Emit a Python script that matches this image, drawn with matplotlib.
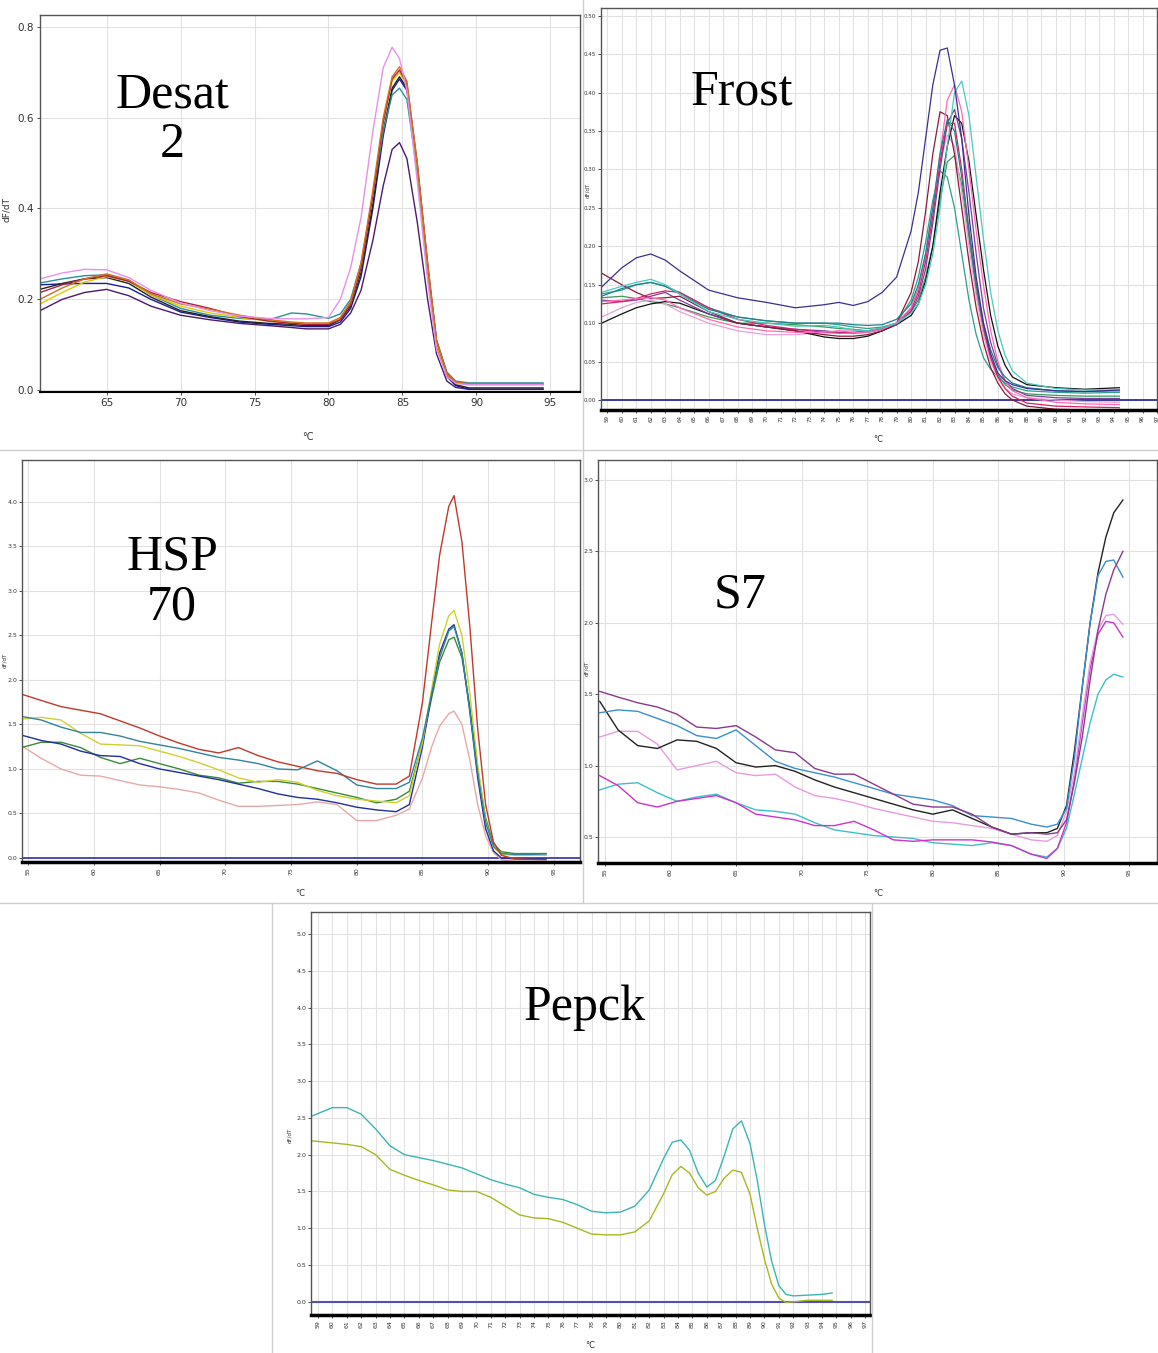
import numpy as np
import matplotlib as mpl
mpl.use('Agg')
import matplotlib.pyplot as plt
from matplotlib.lines import Line2D

# ---------------- data ----------------
DESAT_T = [60.5, 62, 63.5, 65, 66.5, 68, 70, 72, 74, 76, 77.5, 78.5, 80, 80.8, 81.5,
           82.2, 83, 83.7, 84.3, 84.8, 85.3, 86, 86.7, 87.3, 88, 88.6, 89.5, 91, 93, 94.5]
desat_pink = [.245, .258, .266, .265, .248, .22, .192, .175, .163, .158, .157, .157, .16, .2, .27,
              .38, .57, .71, .755, .73, .66, .46, .24, .09, .03, .015, .012, .012, .012, .012]
desat_orange = [.20, .225, .245, .256, .243, .212, .19, .178, .165, .155, .15, .148, .148, .16, .195,
                .28, .44, .6, .69, .712, .68, .5, .28, .11, .037, .018, .014, .014, .014, .014]
desat_yellow = [.19, .215, .238, .25, .24, .21, .185, .17, .16, .152, .148, .145, .147, .158, .19,
                .27, .43, .59, .68, .70, .67, .49, .27, .1, .035, .016, .012, .012, .012, .012]
desat_black = [.222, .235, .245, .248, .235, .205, .175, .162, .152, .147, .145, .142, .142, .155, .185,
               .26, .41, .57, .665, .69, .665, .49, .27, .1, .033, .012, .005, .005, .005, .005]
desat_navy = [.232, .234, .235, .235, .225, .2, .172, .16, .15, .145, .142, .14, .14, .15, .18,
              .25, .4, .56, .66, .685, .66, .49, .27, .1, .03, .01, .002, .002, .002, .002]
desat_teal = [.236, .245, .252, .254, .24, .21, .18, .165, .158, .155, .17, .168, .158, .168, .2,
              .28, .43, .57, .65, .665, .64, .48, .27, .11, .04, .02, .016, .016, .016, .016]
desat_purple = [.175, .2, .215, .222, .208, .185, .165, .155, .147, .142, .138, .135, .135, .145, .17,
                .22, .33, .45, .53, .545, .51, .37, .2, .08, .02, .006, .002, .002, .002, .002]
desat_red = [.215, .232, .245, .252, .24, .215, .195, .18, .162, .152, .147, .145, .145, .155, .19,
             .27, .43, .59, .685, .705, .675, .5, .28, .11, .036, .017, .013, .013, .013, .013]

FROST_T = [58.6, 60, 61, 62, 63, 64, 66, 68, 70, 72, 74, 75, 76, 77, 78, 79, 80, 80.5, 81, 81.5,
           82, 82.5, 83, 83.5, 84, 84.5, 85, 85.5, 86, 86.5, 87, 88, 90, 92, 94.4]
frost_navy = [.147, .172, .185, .19, .182, .168, .143, .133, .127, .12, .124, .127, .123, .128, .14, .16,
              .22, .27, .34, .41, .455, .458, .41, .34, .24, .16, .1, .06, .035, .025, .02, .015, .012, .011, .013]
frost_cyan = [.14, .148, .153, .157, .15, .138, .115, .105, .1, .096, .097, .095, .091, .09, .094, .1,
              .113, .125, .15, .19, .25, .33, .4, .415, .37, .29, .21, .14, .09, .058, .038, .022, .015, .013, .013]
frost_teal = [.135, .145, .15, .153, .148, .138, .118, .108, .103, .1, .1, .1, .098, .097, .098, .105,
              .125, .15, .19, .25, .32, .365, .35, .29, .22, .15, .1, .065, .042, .03, .022, .016, .012, .011, .012]
frost_hotpink = [.128, .13, .132, .133, .13, .12, .105, .095, .09, .088, .088, .09, .088, .088, .092, .1,
                 .12, .145, .19, .25, .32, .39, .41, .375, .3, .22, .15, .09, .05, .025, .012, .003, -.003, -.005, -.006]
frost_darkred = [.165, .15, .14, .132, .133, .135, .115, .1, .095, .09, .085, .083, .083, .085, .09, .1,
                 .14, .18, .245, .32, .375, .37, .32, .25, .18, .12, .075, .042, .022, .008, 0, -.008, -.012, -.013, -.013]
frost_purple = [.13, .128, .13, .135, .14, .13, .112, .1, .095, .092, .09, .088, .087, .088, .092, .098,
                .115, .135, .17, .23, .3, .36, .378, .34, .27, .19, .12, .075, .045, .025, .015, .006, .003, .002, .002]
frost_black = [.10, .112, .12, .125, .128, .126, .112, .1, .095, .09, .082, .08, .08, .083, .09, .098,
               .11, .125, .155, .2, .27, .33, .37, .36, .31, .24, .17, .11, .07, .045, .03, .02, .016, .014, .016]
frost_plum = [.108, .12, .127, .13, .125, .115, .1, .09, .085, .085, .088, .09, .09, .09, .093, .1,
              .12, .145, .185, .24, .31, .345, .33, .27, .2, .135, .085, .05, .028, .015, .008, .003, 0, -.002, -.003]
frost_green = [.133, .135, .132, .128, .125, .12, .108, .1, .1, .098, .095, .093, .092, .09, .094, .1,
               .115, .13, .16, .2, .26, .31, .318, .28, .21, .14, .09, .055, .033, .02, .013, .008, .006, .005, .005]
frost_seagreen = [.138, .143, .15, .153, .148, .14, .12, .108, .103, .1, .1, .098, .095, .093, .095, .1,
                  .13, .16, .205, .26, .298, .29, .25, .19, .13, .085, .055, .04, .03, .022, .017, .012, .01, .009, .01]
frost_crimson = [.125, .128, .132, .138, .142, .14, .12, .105, .097, .092, .088, .087, .088, .09, .093, .1,
                 .118, .14, .18, .24, .31, .36, .36, .3, .22, .15, .095, .055, .03, .015, .005, -.004, -.008, -.009, -.01]

HSP_T = [54.5, 56, 57.5, 59, 60.5, 62, 63.5, 65, 66.5, 68, 69.5, 71, 72.5, 74, 75.5, 77, 78.5, 80,
         81.5, 83, 84, 85, 85.7, 86.3, 87, 87.4, 88, 88.6, 89.2, 89.8, 90.4, 91, 92, 93, 94.4]
hsp_red = [1.84, 1.77, 1.7, 1.66, 1.62, 1.54, 1.46, 1.37, 1.29, 1.22, 1.18, 1.24, 1.15, 1.08, 1.03, 0.98,
           0.95, 0.88, 0.83, 0.83, 0.92, 1.75, 2.65, 3.4, 3.95, 4.07, 3.55, 2.6, 1.45, 0.6, 0.18, 0.03,
           -0.01, -0.015, -0.02]
hsp_teal = [1.59, 1.55, 1.47, 1.41, 1.41, 1.37, 1.31, 1.27, 1.23, 1.18, 1.13, 1.1, 1.06, 1.0, 0.99, 1.09,
            0.98, 0.82, 0.78, 0.78, 0.85, 1.35, 1.85, 2.25, 2.55, 2.6, 2.3, 1.65, 0.95, 0.4, 0.13, 0.05,
            0.04, 0.04, 0.045]
hsp_yellow = [1.56, 1.58, 1.55, 1.4, 1.28, 1.27, 1.26, 1.2, 1.14, 1.07, 0.99, 0.9, 0.85, 0.88, 0.85, 0.76,
              0.7, 0.66, 0.64, 0.62, 0.7, 1.3, 1.9, 2.4, 2.72, 2.78, 2.5, 1.85, 1.05, 0.42, 0.12, 0.04,
              0.03, 0.03, 0.03]
hsp_navy = [1.38, 1.32, 1.28, 1.2, 1.15, 1.14, 1.06, 1.0, 0.96, 0.92, 0.88, 0.83, 0.78, 0.72, 0.68, 0.66,
            0.62, 0.57, 0.54, 0.52, 0.6, 1.25, 1.85, 2.3, 2.57, 2.62, 2.3, 1.65, 0.9, 0.33, 0.08, 0.0,
            -0.01, -0.01, -0.01]
hsp_green = [1.24, 1.3, 1.3, 1.24, 1.13, 1.06, 1.12, 1.06, 1.0, 0.93, 0.9, 0.84, 0.86, 0.86, 0.83, 0.78,
             0.73, 0.68, 0.62, 0.66, 0.75, 1.3, 1.8, 2.2, 2.45, 2.48, 2.25, 1.7, 1.0, 0.45, 0.16, 0.07,
             0.05, 0.05, 0.05]
hsp_pink = [1.26, 1.12, 1.0, 0.93, 0.92, 0.87, 0.82, 0.8, 0.77, 0.73, 0.65, 0.58, 0.58, 0.59, 0.6, 0.63,
            0.6, 0.42, 0.42, 0.48, 0.55, 0.9, 1.25, 1.48, 1.62, 1.65, 1.5, 1.1, 0.6, 0.25, 0.06, -0.02,
            -0.04, -0.04, -0.05]

S7_T = [54.6, 56, 57.5, 59, 60.5, 62, 63.5, 65, 66.5, 68, 69.5, 71, 72.5, 74, 75.5, 77, 78.5, 80, 81.5,
        83, 84.5, 86, 87.5, 88.7, 89.5, 90.2, 90.8, 91.4, 92, 92.6, 93.2, 93.8, 94.5]
s7_purple = [1.52, 1.48, 1.44, 1.41, 1.36, 1.27, 1.26, 1.28, 1.2, 1.11, 1.09, 0.98, 0.94, 0.94, 0.87, 0.8,
             0.73, 0.71, 0.71, 0.66, 0.57, 0.52, 0.53, 0.52, 0.53, 0.62, 0.88, 1.2, 1.6, 1.95, 2.2, 2.37, 2.5]
s7_blue = [1.37, 1.39, 1.38, 1.33, 1.28, 1.21, 1.19, 1.25, 1.14, 1.03, 0.98, 0.95, 0.92, 0.88, 0.84, 0.8,
           0.78, 0.76, 0.72, 0.65, 0.64, 0.63, 0.59, 0.57, 0.59, 0.7, 1.05, 1.55, 2.0, 2.33, 2.43, 2.44, 2.32]
s7_black = [1.45, 1.25, 1.14, 1.12, 1.18, 1.17, 1.12, 1.02, 0.99, 1.0, 0.96, 0.9, 0.85, 0.81, 0.77, 0.73,
            0.69, 0.66, 0.69, 0.63, 0.57, 0.52, 0.53, 0.53, 0.56, 0.72, 1.1, 1.55, 2.0, 2.35, 2.6, 2.77, 2.86]
s7_pink = [1.2, 1.24, 1.24, 1.15, 0.97, 1.0, 1.03, 0.95, 0.93, 0.94, 0.85, 0.79, 0.77, 0.74, 0.7, 0.67,
           0.64, 0.61, 0.6, 0.58, 0.56, 0.52, 0.48, 0.47, 0.51, 0.68, 0.95, 1.35, 1.72, 1.95, 2.05, 2.06, 1.99]
s7_magenta = [0.93, 0.86, 0.74, 0.71, 0.75, 0.77, 0.79, 0.74, 0.66, 0.64, 0.62, 0.58, 0.58, 0.61, 0.55, 0.48,
              0.47, 0.48, 0.48, 0.48, 0.465, 0.44, 0.38, 0.35, 0.42, 0.6, 0.9, 1.3, 1.68, 1.92, 2.01, 2.0, 1.9]
s7_cyan = [0.83, 0.87, 0.88, 0.81, 0.75, 0.78, 0.8, 0.74, 0.69, 0.68, 0.66, 0.6, 0.55, 0.53, 0.51, 0.5,
           0.49, 0.46, 0.45, 0.44, 0.46, 0.44, 0.38, 0.36, 0.42, 0.56, 0.8, 1.05, 1.3, 1.5, 1.6, 1.64, 1.62]

PEPCK_T = [58.5, 59, 60, 61, 62, 63, 64, 65, 66, 67, 68, 69, 70, 71, 72, 73, 74, 75, 76, 77, 78, 79, 80,
           81, 82, 83, 83.6, 84.2, 84.8, 85.4, 86, 86.6, 87.2, 87.8, 88.4, 89, 89.5, 90, 90.5, 91, 91.5,
           92, 93, 94, 94.7]
pepck_cyan = [2.52, 2.56, 2.64, 2.64, 2.55, 2.35, 2.12, 2.0, 1.96, 1.92, 1.87, 1.82, 1.74, 1.66, 1.6, 1.55,
              1.46, 1.42, 1.39, 1.32, 1.23, 1.21, 1.22, 1.3, 1.52, 1.95, 2.17, 2.2, 2.06, 1.75, 1.56, 1.65,
              1.98, 2.35, 2.46, 2.15, 1.65, 1.05, 0.55, 0.22, 0.1, 0.08, 0.09, 0.1, 0.12]
pepck_yellow = [2.19, 2.18, 2.16, 2.14, 2.11, 2.0, 1.8, 1.72, 1.65, 1.59, 1.52, 1.5, 1.5, 1.42, 1.3, 1.18,
                1.14, 1.13, 1.08, 1.0, 0.92, 0.91, 0.91, 0.95, 1.1, 1.47, 1.73, 1.84, 1.75, 1.55, 1.45, 1.5,
                1.68, 1.79, 1.76, 1.46, 1.0, 0.58, 0.24, 0.05, -0.01, 0.0, 0.02, 0.02, 0.02]

W, H = 1158, 1353


def box(x0, y0, x1, y1):
    # pixel box -> figure fraction rect
    return [x0 / W, 1 - y1 / H, (x1 - x0) / W, (y1 - y0) / H]


def style_axes(ax, xlim, ylim, xticks, yticks, fmt, fs, rot, pad=2):
    ax.set_xlim(*xlim)
    ax.set_ylim(*ylim)
    ax.set_xticks(xticks)
    ax.set_yticks(yticks)
    ax.set_yticklabels([fmt % v for v in yticks])
    ax.tick_params(labelsize=fs, colors='#333333', length=2.5, width=0.6, pad=pad)
    for lab in ax.get_xticklabels():
        lab.set_rotation(rot)
    ax.grid(True, color='#e2e2e2', lw=0.8)
    ax.set_axisbelow(True)
    for s in ['left', 'top', 'right']:
        ax.spines[s].set_color('#555555')
        ax.spines[s].set_linewidth(1.0)
    ax.spines['bottom'].set_color('black')
    ax.spines['bottom'].set_linewidth(2.5)


def title(x, y, s):
    fig.text(x / W, 1 - y / H, s, family='Liberation Serif', fontsize=36,
             ha='center', va='center', linespacing=1.1)


def small(x, y, s, rot=0, fs=6):
    fig.text(x / W, 1 - y / H, s, fontsize=fs, ha='center', va='center',
             rotation=rot, color='#333333')


fig = plt.figure(figsize=(W / 100, H / 100), dpi=100)
fig.patch.set_facecolor('white')

# panel separators
for (xa, ya, xb, yb) in [(0, 450, W, 450), (583, 0, 583, 903), (0, 903, W, 903),
                         (272, 903, 272, H), (872, 903, 872, H)]:
    fig.add_artist(Line2D([xa / W, xb / W], [1 - ya / H, 1 - yb / H], color='#cfcfcf', lw=1))

# ---- Desat 2 ----
ax = fig.add_axes(box(40, 15, 580, 392))
for y, c in [(desat_purple, '#4b1a6e'), (desat_navy, '#1a1a9a'), (desat_black, '#222222'),
             (desat_teal, '#2a8f96'), (desat_yellow, '#e0c800'), (desat_red, '#b02040'),
             (desat_orange, '#d07020'), (desat_pink, '#e890e8')]:
    ax.plot(DESAT_T, y, color=c, lw=1.0)
style_axes(ax, (60.5, 97.0), (-0.004, 0.826), [65, 70, 75, 80, 85, 90, 95],
           [0.0, 0.2, 0.4, 0.6, 0.8], '%.1f', 7.5, 0)
ax.spines['bottom'].set_linewidth(1.5)
title(172, 120, 'Desat\n2')
small(308, 437, '°C', fs=7)
small(7, 210, 'dF/dT', rot=90, fs=6.5)

# ---- Frost ----
ax = fig.add_axes(box(601, 8, 1157, 410))
ax.axhline(0, color='#1c1c8c', lw=1.2)
for y, c in [(frost_seagreen, '#2e9e8f'), (frost_green, '#3a9a5a'), (frost_plum, '#e8a0d8'),
             (frost_black, '#111111'), (frost_purple, '#7b3fa0'), (frost_darkred, '#8b1a3a'),
             (frost_crimson, '#d6206a'), (frost_hotpink, '#ff69b4'), (frost_teal, '#20808a'),
             (frost_cyan, '#48c9c0'), (frost_navy, '#3b2f8f')]:
    ax.plot(FROST_T, y, color=c, lw=0.9)
style_axes(ax, (58.56, 97.0), (-0.013, 0.51), list(range(59, 98)),
           [round(0.05 * i, 2) for i in range(11)], '%.2f', 4, 90, pad=1)
title(742, 92, 'Frost')
small(878, 440, '°C', fs=6)
small(588, 190, 'dF/dT', rot=90, fs=4)

# ---- HSP 70 ----
ax = fig.add_axes(box(22, 460, 580, 862))
ax.axhline(0, color='#3030a0', lw=1.2)
for y, c in [(hsp_pink, '#e8a8a8'), (hsp_green, '#3a8a3a'), (hsp_navy, '#1f2f9f'),
             (hsp_yellow, '#d0d030'), (hsp_teal, '#31849b'), (hsp_red, '#c0392b')]:
    ax.plot(HSP_T, y, color=c, lw=1.0)
style_axes(ax, (54.54, 96.98), (-0.045, 4.47), [55, 60, 65, 70, 75, 80, 85, 90, 95],
           [0.5 * i for i in range(9)], '%.1f', 4.5, 90, pad=1)
title(172, 582, 'HSP\n70')
small(300, 893, '°C', fs=6)
small(5, 660, 'dF/dT', rot=90, fs=4)

# ---- S7 ----
ax = fig.add_axes(box(598, 460, 1157, 863))
for y, c in [(s7_cyan, '#3cc0c8'), (s7_magenta, '#cc33cc'), (s7_pink, '#e89be0'),
             (s7_black, '#222222'), (s7_blue, '#3a8fd0'), (s7_purple, '#8b3a8b')]:
    ax.plot(S7_T, y, color=c, lw=1.0)
style_axes(ax, (54.47, 97.1), (0.318, 3.14), [55, 60, 65, 70, 75, 80, 85, 90, 95],
           [0.5, 1.0, 1.5, 2.0, 2.5, 3.0], '%.1f', 4.5, 90, pad=1)
title(740, 595, 'S7')
small(878, 893, '°C', fs=6)
small(587, 668, 'dF/dT', rot=90, fs=4)

# ---- Pepck ----
ax = fig.add_axes(box(311, 912, 870, 1315))
ax.axhline(0, color='#5050b0', lw=1.5)
for y, c in [(pepck_yellow, '#a8b820'), (pepck_cyan, '#3ab5b5')]:
    ax.plot(PEPCK_T, y, color=c, lw=1.0)
style_axes(ax, (58.51, 97.33), (-0.18, 5.3), list(range(59, 98)),
           [0.5 * i for i in range(11)], '%.1f', 4.5, 90, pad=1)
title(585, 1008, 'Pepck')
small(590, 1345, '°C', fs=6)
small(290, 1135, 'dF/dT', rot=90, fs=4)

plt.savefig('out.png', dpi=100)
